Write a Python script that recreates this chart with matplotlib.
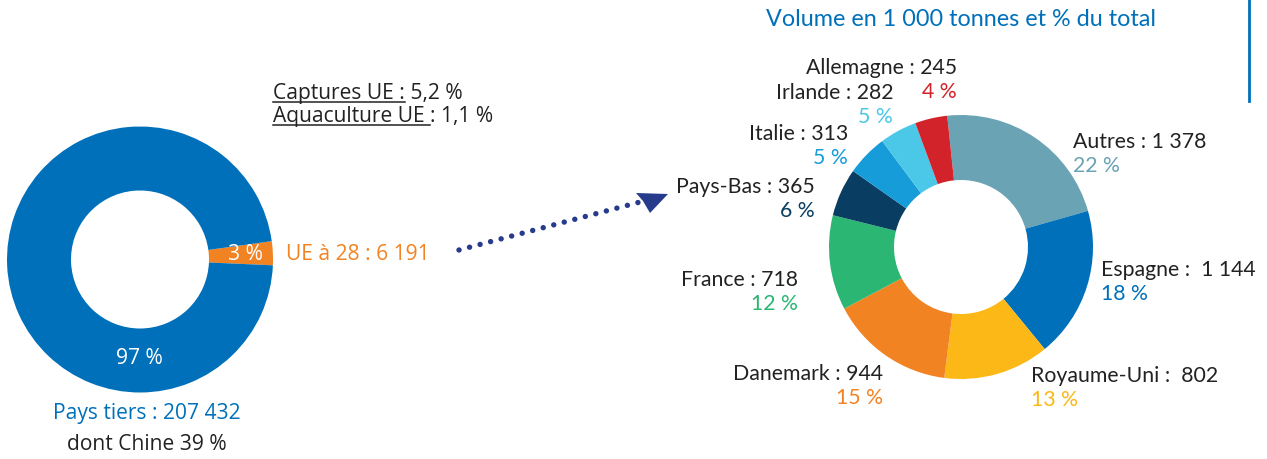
import numpy as np
import matplotlib.pyplot as plt

# donnees : volumes en 1 000 tonnes
ue28 = 6191
pays_tiers = 207432

pays = ['Autres', 'Espagne', 'Royaume-Uni', 'Danemark', 'France',
        'Pays-Bas', 'Italie', 'Irlande', 'Allemagne']
volumes = [1378, 1144, 802, 944, 718, 365, 313, 282, 245]
couleurs = ['#69a3b4', '#0070ba', '#fbb817', '#f28322', '#2bb673',
            '#0a3d62', '#169cd8', '#4bc7e8', '#d2232a']

bleu = '#0070ba'
orange = '#f28322'
gris = '#222222'
navy = '#263b8c'

W, H = 1267, 459
fig = plt.figure(figsize=(W / 100, H / 100), dpi=100)
ax = fig.add_axes([0, 0, 1, 1])

def Y(y):
    # coordonnees en pixels depuis le haut
    return H - y

def fmt(n):
    return '{:,}'.format(n).replace(',', ' ')

# --- donut de gauche ---
ax.pie([ue28, pays_tiers], colors=[orange, bleu], startangle=-2.5,
       radius=133, center=(140, Y(259.5)),
       wedgeprops=dict(width=64, linewidth=0))

# --- donut de droite ---
ax.pie(volumes, colors=couleurs, startangle=96, counterclock=False,
       radius=132, center=(961, Y(247)),
       wedgeprops=dict(width=65, linewidth=0))

ax.set_xlim(0, W)
ax.set_ylim(0, H)
ax.set_aspect('equal')
ax.axis('off')

total_g = ue28 + pays_tiers
f_left = 'Open Sans'
fl = 15.1
ax.text(245, Y(255), '%d %%' % round(ue28 / total_g * 100), color='white',
        fontsize=fl, family=f_left, ha='center', va='center')
ax.text(139, Y(359), '%d %%' % round(pays_tiers / total_g * 100), color='white',
        fontsize=fl, family=f_left, ha='center', va='center')
ax.text(286, Y(255), 'UE à 28 : ' + fmt(ue28), color=orange,
        fontsize=fl, family=f_left, ha='left', va='center')
ax.text(147, Y(414), 'Pays tiers : ' + fmt(pays_tiers), color=bleu,
        fontsize=fl, family=f_left, ha='center', va='center')
ax.text(147, Y(445), 'dont Chine 39 %', color=gris,
        fontsize=fl, family=f_left, ha='center', va='center')

# textes soulignes
fig.canvas.draw()
renderer = fig.canvas.get_renderer()
inv = ax.transData.inverted()

def souligne(x, y, partie, reste):
    t = ax.text(x, Y(y), partie, color=gris, fontsize=fl, family=f_left,
                ha='left', va='baseline')
    bb = t.get_window_extent(renderer)
    x1 = inv.transform((bb.x1, bb.y0))[0]
    ax.plot([x, x1], [Y(y) - 3, Y(y) - 3], color=gris, lw=1.1)
    ax.text(x1, Y(y), reste, color=gris, fontsize=fl, family=f_left,
            ha='left', va='baseline')

souligne(273, 99, 'Captures UE :', ' 5,2 %')
souligne(273, 122, 'Aquaculture UE ', ': 1,1 %')

# fleche pointillee
ax.plot([459, 640], [Y(250), Y(202)], color=navy, lw=3.9,
        linestyle=(0, (0.01, 2.0)), dash_capstyle='round')
ax.fill([668, 636, 643, 650], [Y(194), Y(193), Y(201), Y(213)],
        color=navy, lw=0)

total_d = sum(volumes)
f_right = 'Lato'
fs = 15.3
# (x, y nom, alignement)
positions = {
    'Autres': (1073, 142, 'left'),
    'Espagne': (1101, 270, 'left'),
    'Royaume-Uni': (1031, 376, 'left'),
    'Danemark': (883, 374, 'right'),
    'France': (798, 280, 'right'),
    'Pays-Bas': (815, 187, 'right'),
    'Italie': (848, 134, 'right'),
    'Irlande': (893, 93, 'right'),
    'Allemagne': (957, 68, 'right'),
}
for nom, v, c in zip(pays, volumes, couleurs):
    x, y, ha = positions[nom]
    sep = ' :  ' if nom in ('Espagne', 'Royaume-Uni') else ' : '
    ax.text(x, Y(y), nom + sep + fmt(v), color=gris, fontsize=fs,
            family=f_right, ha=ha, va='center')
    ax.text(x, Y(y + 24), '%d %%' % round(v / total_d * 100), color=c,
            fontsize=fs, family=f_right, ha=ha, va='center')

ax.text(961, Y(20), 'Volume en 1 000 tonnes et % du total', color=bleu,
        fontsize=16.8, family=f_right, ha='center', va='center')
ax.plot([1249, 1249], [Y(0), Y(101)], color=bleu, lw=2)

fig.savefig('out.png', dpi=100)
